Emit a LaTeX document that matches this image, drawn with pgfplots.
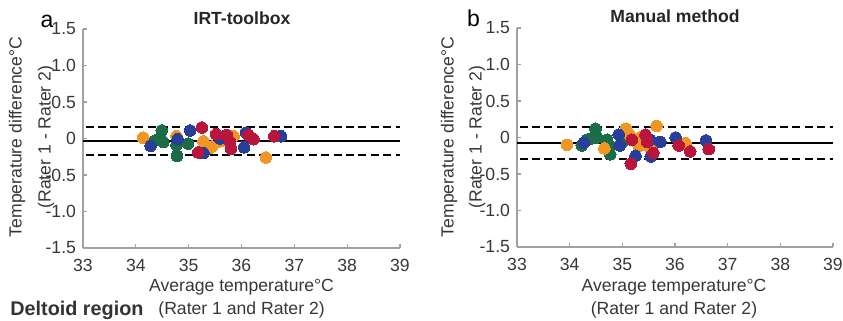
\documentclass[border=0pt]{standalone}
\usepackage{fontspec}
\setmainfont{Liberation Sans}
\usepackage{pgfplots}
\pgfplotsset{compat=1.18}
\definecolor{cblue}{RGB}{40,62,155}
\definecolor{cred}{RGB}{185,22,62}
\definecolor{corange}{RGB}{240,150,35}
\definecolor{cgreen}{RGB}{28,108,72}
\definecolor{axgray}{RGB}{160,160,160}
\definecolor{txtgray}{RGB}{55,55,55}
\newcommand{\tf}{\fontsize{8.8bp}{10bp}\selectfont}
\pgfplotsset{
  baplot/.style={
    scale only axis, width=158.5bp, height=109.5bp,
    xmin=33, xmax=39, ymin=-1.5, ymax=1.5,
    axis x line=bottom, axis y line=left,
    axis line style={-, axgray, line width=0.6bp},
    tick style={axgray, line width=0.6bp},
    tick align=inside, major tick length=2bp,
    xtick={33,34,35,36,37,38,39},
    xticklabels={33,34,35,36,37,38,39},
    ytick={-1.5,-1,-0.5,0,0.5,1,1.5},
    yticklabels={-1.5,-1.0,-0.5,0,0.5,1.0,1.5},
    tick label style={font=\tf, text=txtgray},
    xticklabel style={yshift=-2bp},
    clip=false,
  },
  dot/.style={only marks, mark=*, mark size=2.9bp, color=#1, mark options={draw=#1, fill=#1, line width=0pt}},
}
\begin{document}
\begin{tikzpicture}
\path[use as bounding box] (0,0) rectangle (421.5bp,-160.5bp);
% ---------------- panel a
\begin{axis}[baplot, at={(41.5bp,-124bp)}, anchor=south west]
\addplot[dot=cgreen] coordinates {(34.33,-0.04)(34.40,-0.02)(34.49,0.11)(34.52,-0.05)(34.77,-0.09)(34.78,-0.24)(34.99,-0.07)};
\addplot[dot=corange] coordinates {(34.14,0.01)(34.77,0.03)(35.28,-0.04)(35.44,-0.11)(35.40,-0.13)(35.59,-0.04)(35.85,0.03)(36.46,-0.26)};
\addplot[dot=cblue] coordinates {(34.28,-0.10)(34.79,-0.01)(35.03,0.11)(35.28,-0.20)(35.59,0.00)(36.05,-0.12)(36.09,0.08)(36.75,0.03)};
\addplot[dot=cred] coordinates {(35.25,0.15)(35.18,-0.19)(35.52,0.06)(35.72,0.05)(35.78,-0.04)(35.80,-0.14)(36.13,0.05)(36.23,-0.01)(36.62,0.03)};
\addplot[black, line width=1bp] coordinates {(33,-0.03)(39,-0.03)};
\addplot[black, line width=1bp, dash pattern=on 4bp off 2.2bp] coordinates {(33.05,0.16)(39,0.16)};
\addplot[black, line width=1bp, dash pattern=on 4bp off 2.2bp] coordinates {(33.05,-0.22)(39,-0.22)};
\end{axis}
% ---------------- panel b
\begin{axis}[baplot, at={(258.5bp,-123.5bp)}, anchor=south west, width=158bp]
\addplot[dot=cgreen] coordinates {(34.23,-0.11)(34.33,-0.03)(34.39,-0.02)(34.49,0.12)(34.52,0.00)(34.71,-0.03)(34.76,-0.11)(34.77,-0.23)(34.99,-0.07)};
\addplot[dot=corange] coordinates {(33.95,-0.10)(34.66,-0.15)(35.07,0.12)(35.15,0.03)(35.31,-0.12)(35.34,0.00)(35.53,-0.14)(35.65,0.16)(36.20,-0.08)};
\addplot[dot=cblue] coordinates {(34.27,-0.07)(34.93,0.04)(34.95,-0.11)(35.25,-0.25)(35.53,-0.03)(35.54,-0.26)(35.72,-0.06)(36.01,0.00)(36.59,-0.04)};
\addplot[dot=cred] coordinates {(35.18,-0.03)(35.16,-0.36)(35.44,0.04)(35.47,-0.06)(35.59,-0.21)(36.07,-0.11)(36.29,-0.19)(36.64,-0.16)};
\addplot[black, line width=1bp] coordinates {(33,-0.08)(39,-0.08)};
\addplot[black, line width=1bp, dash pattern=on 4bp off 2.2bp] coordinates {(33.05,0.14)(39,0.14)};
\addplot[black, line width=1bp, dash pattern=on 4bp off 2.2bp] coordinates {(33.05,-0.29)(39,-0.29)};
\end{axis}
% ---------------- texts
\node[anchor=base, font=\fontsize{11.5bp}{12bp}\selectfont, text=black] at (23.5bp,-13.5bp) {a};
\node[anchor=base, font=\fontsize{11.5bp}{12bp}\selectfont, text=black] at (236.75bp,-13bp) {b};
\node[font=\tf\bfseries, text=black!85] at (121bp,-9bp) {IRT-toolbox};
\node[font=\tf\bfseries, text=black!85] at (337.5bp,-8bp) {Manual method};
\node[rotate=90, font=\tf, text=txtgray] at (8.5bp,-68.5bp) {Temperature difference°C};
\node[rotate=90, font=\tf, text=txtgray] at (23bp,-68.5bp) {(Rater 1 - Rater 2)};
\node[rotate=90, font=\tf, text=txtgray] at (224.5bp,-68.5bp) {Temperature difference°C};
\node[rotate=90, font=\tf, text=txtgray] at (238.5bp,-68.5bp) {(Rater 1 - Rater 2)};
\node[font=\tf, text=txtgray] at (120.8bp,-143.5bp) {Average temperature°C};
\node[font=\tf, text=txtgray] at (337bp,-143.5bp) {Average temperature°C};
\node[anchor=west, inner sep=0pt, font=\fontsize{9.9bp}{11bp}\selectfont\bfseries, text=black!80] at (5bp,-155bp) {Deltoid region};
\node[anchor=west, inner sep=0pt, font=\tf, text=txtgray] at (79bp,-155bp) {(Rater 1 and Rater 2)};
\node[font=\tf, text=txtgray] at (337bp,-155bp) {(Rater 1 and Rater 2)};
\end{tikzpicture}
\end{document}
